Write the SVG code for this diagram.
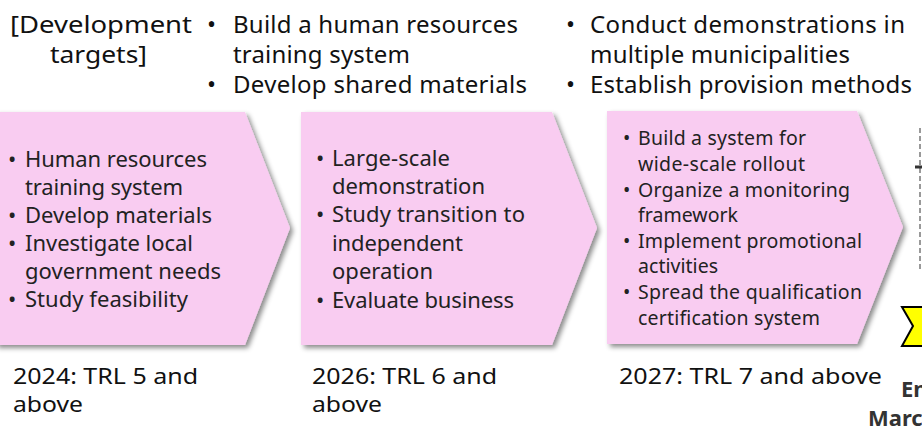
<svg xmlns="http://www.w3.org/2000/svg" width="922" height="428" viewBox="0 0 922 428">
<defs>
<filter id="sh" x="-10%" y="-10%" width="130%" height="130%">
<feDropShadow dx="3" dy="3" stdDeviation="2.5" flood-color="#000" flood-opacity="0.45"/>
</filter>
<style>
text{font-family:"Noto Sans","Open Sans","DejaVu Sans",sans-serif;}
.hd{font-size:24px;fill:#111;}
.s1{font-size:22px;fill:#222;}
.s3{font-size:19.5px;fill:#222;}
.yr{font-size:22px;fill:#111;}
.bd{font-size:22px;font-weight:bold;fill:#333;}
.pk{fill:#F9CCF1;filter:url(#sh);}
</style>
</defs>
<g id="header">
<text class="hd" x="10" y="33" textLength="182" lengthAdjust="spacingAndGlyphs">[Development</text>
<text class="hd" x="50" y="63" textLength="97" lengthAdjust="spacingAndGlyphs">targets]</text>
<text class="hd" x="207" y="33">•</text>
<text class="hd" x="233" y="33" textLength="285">Build a human resources</text>
<text class="hd" x="233" y="63" textLength="177">training system</text>
<text class="hd" x="207" y="93">•</text>
<text class="hd" x="233" y="93" textLength="294">Develop shared materials</text>
<text class="hd" x="566" y="33">•</text>
<text class="hd" x="590" y="33" textLength="315">Conduct demonstrations in</text>
<text class="hd" x="590" y="63" textLength="260">multiple municipalities</text>
<text class="hd" x="566" y="93">•</text>
<text class="hd" x="590" y="93" textLength="322">Establish provision methods</text>
</g>
<g id="stage1">
<polygon class="pk" points="-5,112 245,112 290,228 245,345 -5,345"/>
<text class="s1" x="8" y="167">•</text>
<text class="s1" x="25" y="167" textLength="182">Human resources</text>
<text class="s1" x="25" y="195" textLength="158">training system</text>
<text class="s1" x="8" y="223">•</text>
<text class="s1" x="25" y="223" textLength="187">Develop materials</text>
<text class="s1" x="8" y="251">•</text>
<text class="s1" x="25" y="251" textLength="168">Investigate local</text>
<text class="s1" x="25" y="279" textLength="196">government needs</text>
<text class="s1" x="8" y="307">•</text>
<text class="s1" x="25" y="307" textLength="163">Study feasibility</text>
<text class="yr" x="13" y="384" textLength="185" lengthAdjust="spacingAndGlyphs">2024: TRL 5 and</text>
<text class="yr" x="13" y="412" textLength="70" lengthAdjust="spacingAndGlyphs">above</text>
</g>
<g id="stage2">
<polygon class="pk" points="301,112 552,112 597,228 552,345 301,345"/>
<text class="s1" x="316" y="166">•</text>
<text class="s1" x="332" y="166" textLength="118">Large-scale</text>
<text class="s1" x="332" y="194" textLength="153">demonstration</text>
<text class="s1" x="316" y="222">•</text>
<text class="s1" x="332" y="222" textLength="193">Study transition to</text>
<text class="s1" x="332" y="251" textLength="131">independent</text>
<text class="s1" x="332" y="279" textLength="101">operation</text>
<text class="s1" x="316" y="308">•</text>
<text class="s1" x="332" y="308" textLength="182">Evaluate business</text>
<text class="yr" x="312" y="384" textLength="185" lengthAdjust="spacingAndGlyphs">2026: TRL 6 and</text>
<text class="yr" x="312" y="412" textLength="70" lengthAdjust="spacingAndGlyphs">above</text>
</g>
<g id="stage3">
<polygon class="pk" points="607,111 857,111 903,227 857,344 607,344"/>
<text class="s3" x="623" y="145">•</text>
<text class="s3" x="638" y="145" textLength="168">Build a system for</text>
<text class="s3" x="638" y="171" textLength="167">wide-scale rollout</text>
<text class="s3" x="623" y="197">•</text>
<text class="s3" x="638" y="197" textLength="212">Organize a monitoring</text>
<text class="s3" x="638" y="222" textLength="100">framework</text>
<text class="s3" x="623" y="248">•</text>
<text class="s3" x="638" y="248" textLength="224">Implement promotional</text>
<text class="s3" x="638" y="273" textLength="80">activities</text>
<text class="s3" x="623" y="299">•</text>
<text class="s3" x="638" y="299" textLength="224">Spread the qualification</text>
<text class="s3" x="638" y="325" textLength="182">certification system</text>
<text class="yr" x="619" y="384" textLength="263" lengthAdjust="spacingAndGlyphs">2027: TRL 7 and above</text>
</g>
<g id="edge">
<line x1="920" y1="128" x2="920" y2="270" stroke="#999" stroke-width="2" stroke-dasharray="5,3"/>
<line x1="915" y1="167" x2="922" y2="167" stroke="#333" stroke-width="3"/>
<polygon points="902,307 930,307 930,346 902,346 913,326" fill="#FFFF00" stroke="#000" stroke-width="2" stroke-linejoin="miter"/>
<text class="bd" x="901" y="397">En</text>
<text class="bd" x="868" y="426">Marc</text>
</g>
<g id="connectors"/>
</svg>
